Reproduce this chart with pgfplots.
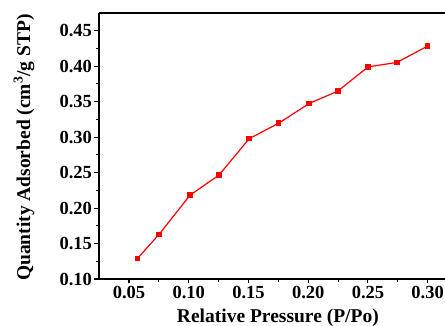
\documentclass[border=0pt]{standalone}
\usepackage{pgfplots}
\pgfplotsset{compat=1.18}
\usepackage{fontspec}
\setmainfont{Liberation Serif}
\usetikzlibrary{calc}
\begin{document}
\begin{tikzpicture}
\begin{axis}[
  name=ax,
  scale only axis,
  width=346pt, height=266pt,
  xmin=0.0249, xmax=0.3145,
  ymin=0.10, ymax=0.475,
  axis x line*=bottom, axis y line*=left,
  axis line style={-, line width=1.3pt},
  tick align=outside,
  major tick length=4.5pt, minor tick length=3pt,
  tick style={line width=1.1pt, black},
  xtick={0.05,0.10,...,0.30},
  ytick={0.10,0.15,...,0.45},
  minor x tick num=1, minor y tick num=1,
  /pgf/number format/assume math mode=true,
  /pgf/number format/.cd, fixed, fixed zerofill, precision=2, /pgfplots/.cd,
  tick label style={font=\bfseries\fontsize{18.5}{18.5}\selectfont},
  yticklabel style={xshift=1pt},
  xticklabel style={yshift=0.5pt},
  xlabel={Relative Pressure (P/Po)},
  ylabel={Quantity Adsorbed (cm\textsuperscript{3}/g STP)},
  label style={font=\bfseries\fontsize{19.5}{19.5}\selectfont},
  xlabel style={anchor=center, at={(axis description cs:0.517,-0.145)}},
  ylabel style={anchor=center, rotate=0, at={(axis description cs:-0.217,0.494)}},
  clip=false,
]
\addplot[red, line width=1.2pt, mark=square*, mark size=2.2pt, mark options={solid, fill=red}]
  coordinates {
  (0.057,0.1288)
  (0.0751,0.1627)
  (0.101,0.218)
  (0.1253,0.2465)
  (0.1507,0.2979)
  (0.1753,0.3196)
  (0.2007,0.3473)
  (0.2247,0.3648)
  (0.2503,0.3992)
  (0.2741,0.4052)
  (0.300,0.4284)
  };
\draw[line width=1.3pt] (rel axis cs:0,1) -- (rel axis cs:1,1);
\end{axis}
\pgfresetboundingbox
\useasboundingbox ($(ax.south west)+(-99pt,-47pt)$) rectangle ($(ax.north east)+(0pt,13pt)$);
\end{tikzpicture}
\end{document}
